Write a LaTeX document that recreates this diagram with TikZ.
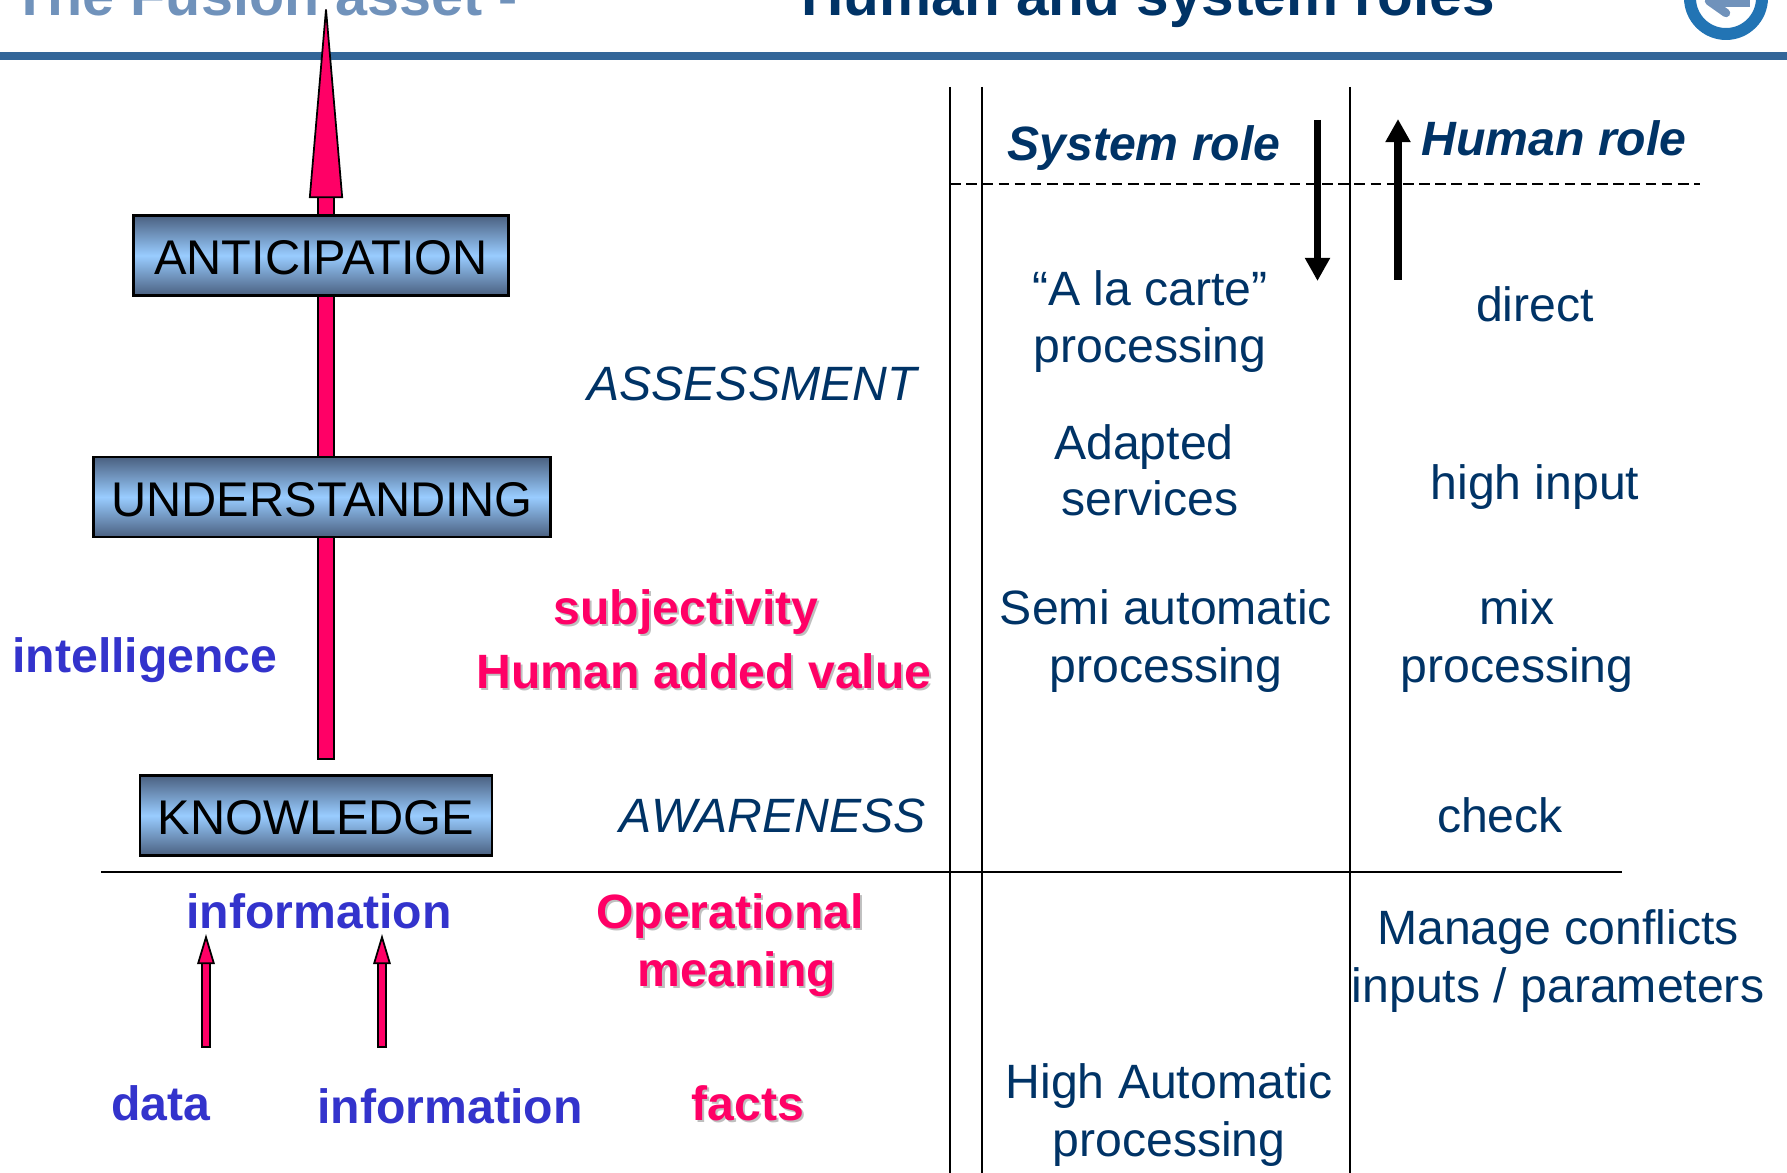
\documentclass[tikz,border=0pt]{standalone}
\usepackage{fontspec}
\setmainfont{Liberation Sans}
\usetikzlibrary{arrows.meta}
\definecolor{barblue}{HTML}{336699}
\definecolor{ringblue}{HTML}{2274B4}
\definecolor{titlesteel}{HTML}{7092BB}
\definecolor{navy}{HTML}{003366}
\definecolor{hotpink}{HTML}{FF0066}
\definecolor{indigo}{HTML}{3333CC}
\definecolor{boxdark}{HTML}{4A6080}
\definecolor{boxlight}{HTML}{99CCFF}
\newcommand{\withshadow}[1]{\rlap{\kern0.6pt\raisebox{-0.6pt}{\color{black!25}#1}}#1}
\tikzset{
  levelbox/.style={draw=black,line width=0.7pt,top color=boxdark,bottom color=boxdark,middle color=boxlight,
    text=black,font=\fontsize{13.85}{16}\selectfont,inner sep=0pt,text height=11pt,text depth=0pt},
  rolelabel/.style={anchor=base,text=navy,font=\fontsize{13.7}{16}\selectfont,inner sep=0pt},
  headlabel/.style={anchor=base,text=navy,font=\fontsize{13.7}{16}\selectfont\bfseries\itshape,inner sep=0pt},
  stagelabel/.style={anchor=base,text=navy,font=\fontsize{13.7}{16}\selectfont\itshape,inner sep=0pt},
  bluelabel/.style={anchor=base,text=indigo,font=\fontsize{13.7}{16}\selectfont\bfseries,inner sep=0pt},
  pinklabel/.style={anchor=base,text=hotpink,font=\fontsize{13.7}{16}\selectfont\bfseries,inner sep=0pt},
  grid/.style={draw=black,line width=0.5pt},
  bigarrow/.style={draw=black,line width=0.5pt,double=hotpink,double distance=3.9pt,
    {Bar[width=4.9pt,line width=0.5pt]}-{Triangle[length=56.6pt,width=9.6pt,fill=hotpink,line width=0.5pt]}},
  smallarrow/.style={draw=black,line width=0.5pt,double=hotpink,double distance=1.9pt,
    {Bar[width=2.9pt,line width=0.5pt]}-{Triangle[length=8.6pt,width=5pt,fill=hotpink,line width=0.5pt]}},
  blackarrow/.style={draw=black,line width=2pt,-{Triangle[length=6.6pt,width=6.8pt]}}
}
\begin{document}
\begin{tikzpicture}[x=0.01cm,y=-0.01cm]
\useasboundingbox (0,0) rectangle (1787,1173);
% header
\node (titleleft) at (12,16) [anchor=base west,inner sep=0pt,text=titlesteel,font=\fontsize{16.35}{18}\selectfont\bfseries] {The Fusion asset -};
\node (titleright) at (801,16) [anchor=base west,inner sep=0pt,text=navy,font=\fontsize{16.65}{18}\selectfont\bfseries] {Human and system roles};
\fill[barblue] (0,52) rectangle (1787,60);
\draw[ringblue,line width=3.4pt,fill=white] (1726,-2) circle (36);
\draw[titlesteel,line width=2.4pt,line cap=round] (1709,1) -- (1726,13);
\draw[titlesteel,line width=3.4pt] (1712,1) -- (1750,1);
% table rules
\coordinate (ruleAtop) at (950,87);
\coordinate (ruleAbot) at (950,1173);
\coordinate (ruleBtop) at (982,87);
\coordinate (ruleBbot) at (982,1173);
\coordinate (ruleCtop) at (1350,87);
\coordinate (ruleCbot) at (1350,1173);
\coordinate (dashL) at (950,184);
\coordinate (dashR) at (1700,184);
\coordinate (floorL) at (101,872);
\coordinate (floorR) at (1622,872);
\draw[grid] (ruleAtop) -- (ruleAbot);
\draw[grid] (ruleBtop) -- (ruleBbot);
\draw[grid] (ruleCtop) -- (ruleCbot);
\draw[grid] (floorL) -- (floorR);
\draw[grid,dash pattern=on 3pt off 1.6pt] (dashL) -- (dashR);
% main arrow, behind the boxes
\coordinate (mainbase) at (326,760);
\coordinate (maintip) at (326,-1);
\draw[bigarrow] (mainbase) -- (maintip);
\node (anticipation) at (321,255.5) [levelbox,minimum width=3.75cm,minimum height=0.8cm] {ANTICIPATION};
\node (understanding) at (322,497) [levelbox,minimum width=4.57cm,minimum height=0.8cm] {UNDERSTANDING};
\node (knowledge) at (316,815.5) [levelbox,minimum width=3.52cm,minimum height=0.8cm] {KNOWLEDGE};
% role arrows
\coordinate (sysfrom) at (1317.5,120);
\coordinate (systo) at (1317.5,281);
\coordinate (humfrom) at (1398,280);
\coordinate (humto) at (1398,119);
\draw[blackarrow] (sysfrom) -- (systo);
\draw[blackarrow] (humfrom) -- (humto);
% small arrows
\coordinate (dataup) at (206,1048);
\coordinate (datatip) at (206,934);
\coordinate (infoup) at (382,1048);
\coordinate (infotip) at (382,934);
\draw[smallarrow] (dataup) -- (datatip);
\draw[smallarrow] (infoup) -- (infotip);
% left labels
\node (assessment) at (752,400) [stagelabel] {ASSESSMENT};
\node (awareness) at (773,832) [stagelabel] {AWARENESS};
\node (intelligence) at (145,672) [bluelabel] {intelligence};
\node (subjectivity) at (686,624) [pinklabel] {\withshadow{subjectivity}};
\node (addedvalue) at (704,688) [pinklabel] {\withshadow{Human added value}};
\node (infoabove) at (319,928) [bluelabel] {information};
\node (operational) at (730,928) [pinklabel] {\withshadow{Operational}};
\node (meaning) at (737,986) [pinklabel] {\withshadow{meaning}};
\node (data) at (161,1120) [bluelabel] {data};
\node (infobelow) at (450,1123) [bluelabel] {information};
\node (facts) at (748,1120) [pinklabel] {\withshadow{facts}};
% system column
\node (systemrole) at (1144,161) [headlabel] {System role};
\node (alacarte) at (1150,305) [rolelabel] {“A la carte”};
\node (alacartep) at (1150,363) [rolelabel] {processing};
\node (adapted) at (1144,459) [rolelabel] {Adapted};
\node (services) at (1150,515) [rolelabel] {services};
\node (semi) at (1166,624) [rolelabel] {Semi automatic};
\node (semip) at (1166,682) [rolelabel] {processing};
\node (highauto) at (1169,1098) [rolelabel] {High Automatic};
\node (highautop) at (1169,1156) [rolelabel] {processing};
% human column
\node (humanrole) at (1554,156) [headlabel] {Human role};
\node (direct) at (1535,321) [rolelabel] {direct};
\node (highinput) at (1535,499) [rolelabel] {high input};
\node (mix) at (1517,624) [rolelabel] {mix};
\node (mixp) at (1517,682) [rolelabel] {processing};
\node (check) at (1500,832) [rolelabel] {check};
\node (conflicts) at (1558,944) [rolelabel] {Manage conflicts};
\node (inputs) at (1558,1002) [rolelabel] {inputs / parameters};
\end{tikzpicture}
\end{document}
